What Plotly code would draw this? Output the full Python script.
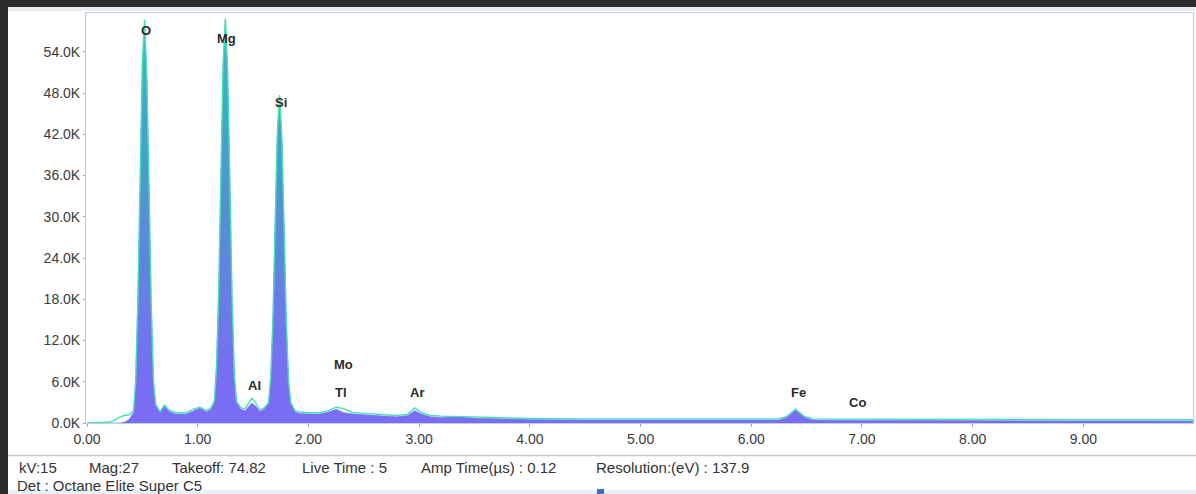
import plotly.graph_objects as go

# Energy axis (keV) and counts for the measured spectrum and its overlay line
energy_kev = [0.00, 0.20, 0.26, 0.30, 0.34, 0.38, 0.42, 0.44, 0.46, 0.48, 0.50, 0.52, 0.54,
              0.56, 0.58, 0.60, 0.62, 0.66, 0.70, 0.74, 0.80, 0.90, 0.96, 1.02, 1.08, 1.12,
              1.15, 1.17, 1.19, 1.21, 1.23, 1.25, 1.27, 1.29, 1.31, 1.33, 1.35, 1.39, 1.43,
              1.46, 1.49, 1.52, 1.56, 1.60, 1.64, 1.66, 1.68, 1.70, 1.72, 1.74, 1.76, 1.78,
              1.80, 1.82, 1.84, 1.88, 1.92, 2.00, 2.10, 2.18, 2.25, 2.32, 2.40, 2.50, 2.60,
              2.70, 2.80, 2.90, 2.96, 3.02, 3.10, 3.20, 3.30, 3.40, 3.50, 3.70, 4.00, 4.50,
              5.00, 5.50, 6.00, 6.25, 6.32, 6.40, 6.48, 6.56, 6.70, 7.00, 7.10, 7.30, 8.00,
              9.00, 9.99]

spectrum_counts = [0, 0, 0, 0, 150, 500, 1500, 6000, 18000, 36000, 52000, 58000, 50000,
                   34000, 17000, 6000, 2500, 1500, 2500, 1700, 1300, 1300, 1800, 2200, 1600, 2000,
                   3000, 8000, 19000, 36000, 52000, 58400, 51000, 35000, 18000, 7000, 3000, 2000, 1800,
                   2400, 2900, 2500, 1700, 2000, 2800, 6500, 15000, 29000, 42000, 47300, 41000, 28000,
                   14500, 6000, 2800, 1600, 1400, 1300, 1300, 1600, 2000, 1500, 1300, 1200, 1100,
                   1000, 900, 1100, 1800, 1300, 900, 800, 800, 900, 700, 600, 500, 450,
                   450, 420, 400, 450, 800, 1900, 800, 450, 400, 380, 400, 350, 320,
                   300, 280]

overlay_counts = [0, 100, 500, 900, 1100, 1200, 1700, 6200, 18200, 36300, 52300, 58700, 50400,
                  34300, 17300, 6200, 2700, 1700, 2600, 1900, 1500, 1500, 2000, 2300, 1800, 2200,
                  3200, 8200, 19300, 36300, 52400, 58900, 51300, 35300, 18200, 7200, 3200, 2200, 2100,
                  2900, 3600, 3000, 1900, 2200, 3000, 6700, 15300, 29300, 42400, 47700, 41300, 28300,
                  14700, 6200, 3000, 1800, 1600, 1500, 1500, 1800, 2300, 2100, 1500, 1400, 1300,
                  1200, 1100, 1300, 2200, 1500, 1100, 1000, 950, 1000, 850, 750, 650, 600,
                  580, 560, 540, 600, 950, 2000, 950, 600, 560, 540, 540, 520, 500,
                  480, 470]

# Element markers: label, energy (keV), label height (counts)
element_names = ["O", "Mg", "Si", "Al", "Mo", "Tl", "Ar", "Fe", "Co"]
element_kev = [0.533, 1.257, 1.754, 1.51, 2.315, 2.29, 2.98, 6.43, 6.96]
element_label_y = [57100, 55900, 46700, 5400, 8500, 4400, 4400, 4400, 3050]

x_ticks = [0, 1, 2, 3, 4, 5, 6, 7, 8, 9]
x_tick_text = ["0.00", "1.00", "2.00", "3.00", "4.00", "5.00", "6.00", "7.00", "8.00", "9.00"]
y_ticks = [0, 6000, 12000, 18000, 24000, 30000, 36000, 42000, 48000, 54000]
y_tick_text = ["0.0K", "6.0K", "12.0K", "18.0K", "24.0K", "30.0K", "36.0K", "42.0K", "48.0K", "54.0K"]

# Acquisition details shown under the chart: text and left position (px)
info_items = ["kV:15", "Mag:27", "Takeoff: 74.82", "Live Time : 5",
              "Amp Time(\u00b5s) : 0.12", "Resolution:(eV) : 137.9"]
info_left_px = [17, 87, 170, 300, 419, 594]
detector_text = "Det : Octane Elite Super C5"

W, H = 1196, 494
L, R, T, B = 87, 3, 12, 71
PW, PH = W - L - R, H - T - B


def px_x(p):
    return (p - L) / PW


def px_y(p):
    return (H - B - p) / PH


fig = go.Figure()

fig.add_trace(go.Scatter(
    x=energy_kev, y=spectrum_counts, mode="lines",
    line=dict(color="#7b6cf4", width=0.6),
    fill="tozeroy",
    fillgradient=dict(type="vertical", start=0, stop=59000,
                      colorscale=[[0, "#7b6cf4"], [0.15, "#7670f2"], [0.45, "#5a8ad8"],
                                  [0.75, "#40a6c8"], [1, "#3cbcc0"]]),
    hoverinfo="skip", showlegend=False,
))

fig.add_trace(go.Scatter(
    x=energy_kev, y=overlay_counts, mode="lines",
    line=dict(color="#43e0b4", width=1.4),
    hoverinfo="skip", showlegend=False,
))

font_main = "Liberation Sans, Arial, sans-serif"

annotations = []
for name, ex, ey in zip(element_names, element_kev, element_label_y):
    annotations.append(dict(
        x=ex, y=ey, xref="x", yref="y", text="<b>" + name + "</b>", showarrow=False,
        font=dict(family=font_main, size=13, color="#2a2a2a"),
        xanchor="center", yanchor="middle",
    ))

for txt, left in zip(info_items, info_left_px):
    annotations.append(dict(
        x=px_x(left), y=px_y(467), xref="paper", yref="paper", text=txt, showarrow=False,
        font=dict(family=font_main, size=15, color="#333333"),
        xanchor="left", yanchor="middle",
    ))
annotations.append(dict(
    x=px_x(15), y=px_y(486), xref="paper", yref="paper", text=detector_text, showarrow=False,
    font=dict(family=font_main, size=15, color="#333333"),
    xanchor="left", yanchor="middle",
))

shapes = [
    # light strip along the bottom of the panel
    dict(type="rect", xref="paper", yref="paper", x0=px_x(0), x1=px_x(W), y0=px_y(490), y1=px_y(H),
         fillcolor="#e4f2fa", line=dict(width=0), layer="below"),
    # separator above the acquisition details
    dict(type="line", xref="paper", yref="paper", x0=px_x(8), x1=px_x(W), y0=px_y(455.5), y1=px_y(455.5),
         line=dict(color="#c9c9c9", width=1.5)),
    # window frame
    dict(type="rect", xref="paper", yref="paper", x0=px_x(0), x1=px_x(W), y0=px_y(0), y1=px_y(7),
         fillcolor="#2b2b2b", line=dict(width=0)),
    dict(type="rect", xref="paper", yref="paper", x0=px_x(0), x1=px_x(8), y0=px_y(0), y1=px_y(H),
         fillcolor="#2b2b2b", line=dict(width=0)),
    dict(type="rect", xref="paper", yref="paper", x0=px_x(8), x1=px_x(W), y0=px_y(7), y1=px_y(11),
         fillcolor="#e9edf0", line=dict(width=0)),
    # plot frame
    dict(type="rect", xref="paper", yref="paper", x0=px_x(85.5), x1=px_x(1193.5), y0=px_y(12.5), y1=px_y(423.5),
         line=dict(color="#bcd2e4", width=1.2)),
    # small status marker
    dict(type="rect", xref="paper", yref="paper", x0=px_x(597), x1=px_x(604), y0=px_y(489), y1=px_y(H),
         fillcolor="#3a6cc4", line=dict(width=0)),
]

fig.update_layout(
    width=W, height=H,
    margin=dict(l=L, r=R, t=T, b=B, pad=0),
    paper_bgcolor="#ffffff", plot_bgcolor="#ffffff",
    annotations=annotations, shapes=shapes,
    showlegend=False,
)

fig.update_xaxes(
    range=[0, 9.99], tickvals=x_ticks, ticktext=x_tick_text,
    ticks="outside", ticklen=3, tickcolor="#9aa8b4",
    tickfont=dict(family=font_main, size=14, color="#3a3a3a"),
    showgrid=False, zeroline=False, showline=False,
)
fig.update_yaxes(
    range=[0, 59800], tickvals=y_ticks, ticktext=y_tick_text,
    ticks="outside", ticklen=3, tickcolor="#9aa8b4",
    tickfont=dict(family=font_main, size=14, color="#3a3a3a"),
    showgrid=False, zeroline=False, showline=False,
)

fig.write_html("out.html")
